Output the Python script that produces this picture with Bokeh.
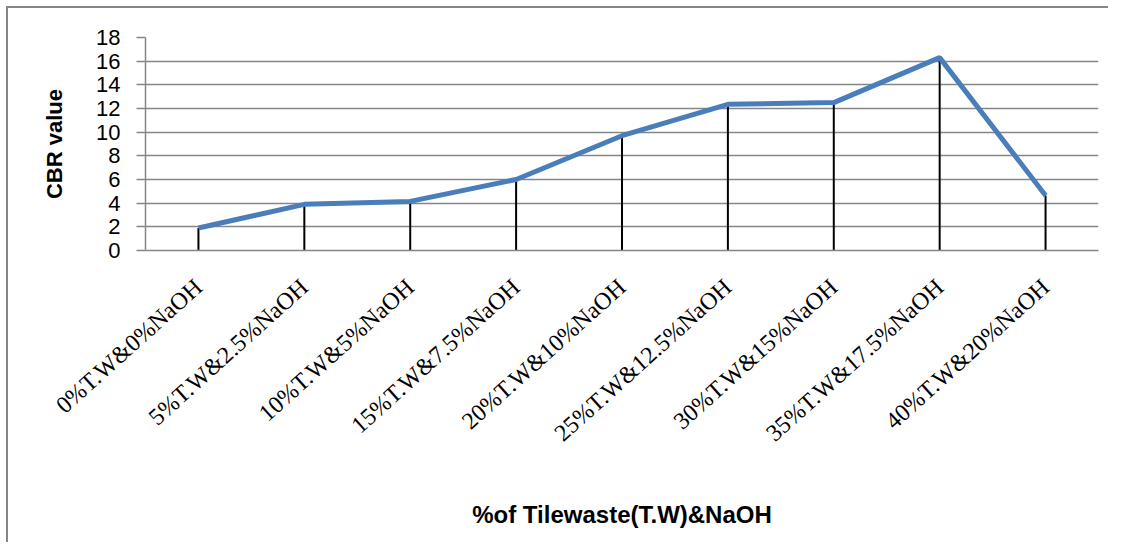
import math
from bokeh.plotting import figure
from bokeh.models import Range1d, FactorRange, FixedTicker
from bokeh.embed import file_html
from bokeh.resources import INLINE

categories = ["0%T.W&0%NaOH", "5%T.W&2.5%NaOH", "10%T.W&5%NaOH", "15%T.W&7.5%NaOH",
              "20%T.W&10%NaOH", "25%T.W&12.5%NaOH", "30%T.W&15%NaOH", "35%T.W&17.5%NaOH",
              "40%T.W&20%NaOH"]
cbr_values = [1.9, 3.9, 4.15, 6.0, 9.7, 12.35, 12.5, 16.3, 4.65]
y_ticks = [0, 2, 4, 6, 8, 10, 12, 14, 16, 18]

GRAY = "#868686"
SANS = "'Liberation Sans Narrow', 'Arial Narrow', 'Liberation Sans', sans-serif"

p = figure(x_range=FactorRange(*categories), y_range=Range1d(0, 18),
           frame_width=953, frame_height=213,
           min_border_left=137, min_border_top=29, min_border_right=10, min_border_bottom=292,
           output_backend="svg", toolbar_location=None)
p.styles = {"border-top": "2px solid " + GRAY, "border-left": "2px solid " + GRAY,
            "margin-top": "6px", "margin-left": "6px"}
p.outline_line_color = None
p.background_fill_color = "white"

p.segment(x0=categories, y0=[0] * len(categories), x1=categories, y1=cbr_values,
          line_color="black", line_width=2)
p.line(categories, cbr_values, line_color="#4A7EBB", line_width=5)

p.xgrid.visible = False
p.ygrid.grid_line_color = GRAY
p.ygrid.grid_line_width = 1.5

p.yaxis.ticker = FixedTicker(ticks=y_ticks)
p.yaxis.axis_line_color = GRAY
p.yaxis.axis_line_width = 1.5
p.yaxis.major_tick_line_color = GRAY
p.yaxis.major_tick_line_width = 1.5
p.yaxis.major_tick_out = 9
p.yaxis.major_tick_in = 0
p.yaxis.minor_tick_line_color = None
p.yaxis.major_label_text_font = SANS
p.yaxis.major_label_text_font_size = "22px"
p.yaxis.major_label_text_color = "black"
p.yaxis.major_label_standoff = 16
p.yaxis.axis_label = "CBR value"
p.yaxis.axis_label_text_font = SANS
p.yaxis.axis_label_text_font_style = "bold"
p.yaxis.axis_label_text_font_size = "22px"
p.yaxis.axis_label_text_color = "black"
p.yaxis.axis_label_standoff = 26

p.xaxis.axis_line_color = GRAY
p.xaxis.axis_line_width = 1.5
p.xaxis.major_tick_line_color = None
p.xaxis.minor_tick_line_color = None
p.xaxis.major_label_orientation = 0.733
p.xaxis.major_label_text_font = "Liberation Serif"
p.xaxis.major_label_text_font_size = "24px"
p.xaxis.major_label_text_color = "black"
p.xaxis.major_label_standoff = 27
p.xaxis.axis_label = "%of Tilewaste(T.W)&NaOH"
p.xaxis.axis_label_text_font = SANS
p.xaxis.axis_label_text_font_style = "bold"
p.xaxis.axis_label_text_font_size = "24px"
p.xaxis.axis_label_text_color = "black"
p.xaxis.axis_label_standoff = 42

open("out.html", "w").write(file_html(p, INLINE))
